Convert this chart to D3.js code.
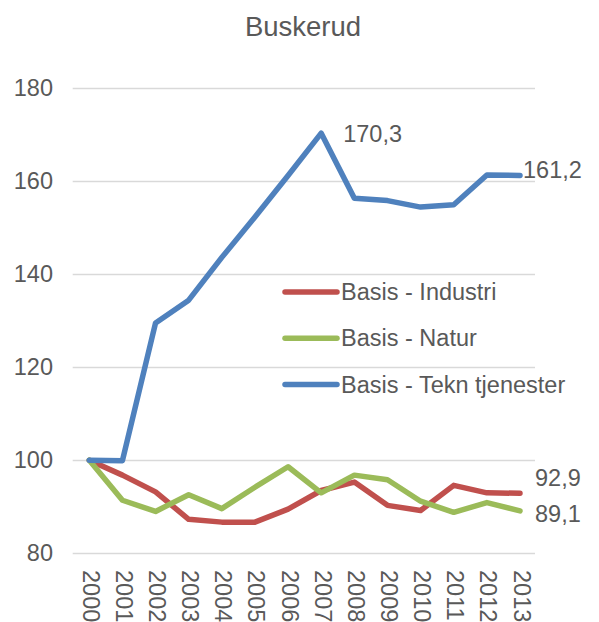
<!DOCTYPE html>
<html>
<head>
<meta charset="utf-8">
<script src="https://cdn.jsdelivr.net/npm/d3@7"></script>
<style>
  body { margin: 0; background: #fff; }
  text { font-family: "Liberation Sans", Arial, sans-serif; fill: #595959; }
</style>
</head>
<body>
<div id="chart"></div>
<script>
// data
var years = ["2000","2001","2002","2003","2004","2005","2006","2007","2008","2009","2010","2011","2012","2013"];
var industri = [100, 96.8, 93.2, 87.3, 86.7, 86.7, 89.5, 93.5, 95.3, 90.3, 89.2, 94.6, 93.0, 92.9];
var natur    = [100, 91.4, 89.0, 92.6, 89.6, 94.2, 98.6, 93.0, 96.8, 95.8, 91.2, 88.8, 90.9, 89.1];
var tekn     = [100, 99.9, 129.5, 134.4, 143.6, 152.3, 161.2, 170.3, 156.3, 155.8, 154.4, 154.9, 161.3, 161.2];
var yTicks = [80, 100, 120, 140, 160, 180];

var series = [
  {name: "Basis - Industri", values: industri, color: "#C0504D"},
  {name: "Basis - Natur", values: natur, color: "#9BBB59"},
  {name: "Basis - Tekn tjenester", values: tekn, color: "#4F81BD"}
];

var W = 599, H = 622;
var svg = d3.select("#chart").append("svg")
  .attr("width", W)
  .attr("height", H);

// scales
var x = d3.scalePoint()
  .domain(years)
  .range([89.3, 520])
var y = d3.scaleLinear()
  .domain([80, 180])
  .range([553.3, 88]);

//title
svg.append("text")
  .attr("x", 303)
  .attr("y", 36)
  .attr("text-anchor", "middle")
  .attr("font-size", 27.5)
  .text("Buskerud");

//gridlines
svg.append("g")
  .selectAll("line")
  .data(yTicks)
  .enter().append("line")
    .attr("x1", 72.7)
    .attr("x2", 535)
    .attr("y1", d => Math.round(y(d)) + 0.5)
    .attr("y2", d => Math.round(y(d)) + 0.5)
    .attr("stroke", "#D9D9D9")
    .attr("stroke-width", 1.3);

// y axis (labels only)
var yAxis = svg.append("g")
  .attr("transform", "translate(72,0)")
  .call(d3.axisLeft(y).tickValues(yTicks).tickSize(0).tickPadding(19));
yAxis.select(".domain").remove();
yAxis.selectAll("text")
  .attr("font-size", 23.5)
  .attr("font-family", null)
  .attr("fill", null);

// x axis, rotated labels
var xAxis = svg.append("g")
  .attr("transform", "translate(0,553)")
  .call(d3.axisBottom(x).tickSize(0).tickPadding(0));
xAxis.select(".domain").remove();
xAxis.selectAll("text")
  .attr("font-size", 23.5)
  .attr("font-family", null)
  .attr("fill", null)
  .attr("transform", "translate(1,17) rotate(90)")
  .attr("text-anchor", "start")
  .attr("dy", null)
  .attr("y", 0)
  .attr("dominant-baseline", "central");

// lines
var line = d3.line()
  .x((d, i) => x(years[i]))
  .y(d => y(d));

svg.append("g")
  .selectAll("path")
  .data(series)
  .enter().append("path")
    .attr("d", d => line(d.values))
    .attr("fill", "none")
    .attr("stroke", d => d.color)
    .attr("stroke-width", 5.5)
    .attr("stroke-linejoin", "round")
    .attr("stroke-linecap", "round");

// data labels
var labels = [
  {text: "170,3", year: "2007", v: 170.3, dx: 22, dy: 1},
  {text: "161,2", year: "2013", v: 161.2, dx: 3, dy: -5},
  {text: "92,9", year: "2013", v: 92.9, dx: 15, dy: -15},
  {text: "89,1", year: "2013", v: 89.1, dx: 15, dy: 3}
];
svg.append("g")
  .selectAll("text")
  .data(labels)
  .enter().append("text")
    .attr("x", d => x(d.year) + d.dx)
    .attr("y", d => y(d.v) + d.dy)
    .attr("dominant-baseline", "central")
    .attr("font-size", 23.5)
    .text(d => d.text);

// legend
var legend = svg.append("g")
  .attr("transform", "translate(283,292)");
var item = legend.selectAll("g")
  .data(series)
  .enter().append("g")
    .attr("transform", (d, i) => "translate(0," + (i * 46.3) + ")");
item.append("line")
  .attr("x1", 2)
  .attr("x2", 54)
  .attr("stroke", d => d.color)
  .attr("stroke-width", 5.5)
  .attr("stroke-linecap", "round");
item.append("text")
  .attr("x", 58)
  .attr("dominant-baseline", "central")
  .attr("font-size", 23.5)
  .text(d => d.name);
</script>
</body>
</html>
